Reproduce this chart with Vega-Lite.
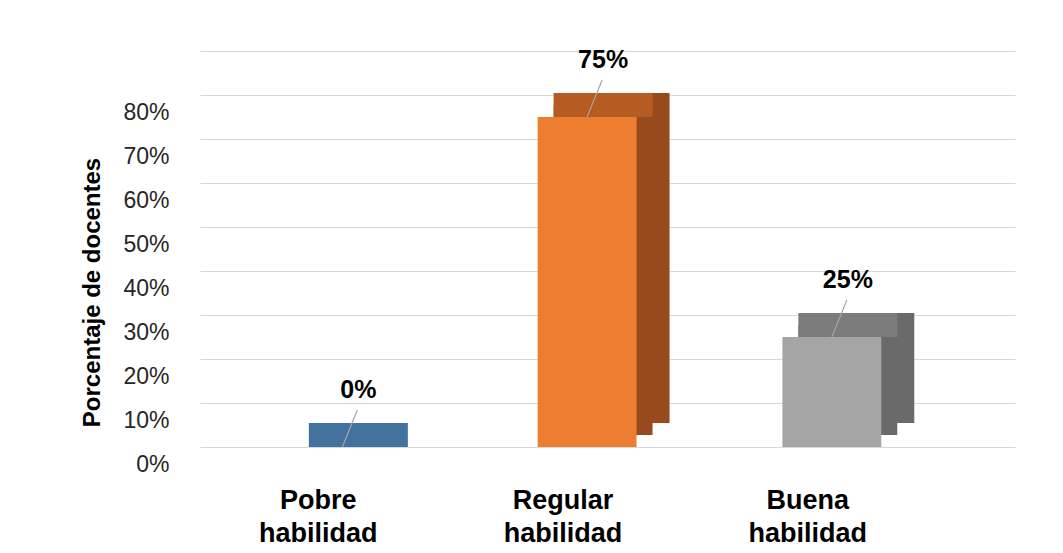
{
  "$schema": "https://vega.github.io/schema/vega-lite/v6.json",
  "width": 815,
  "height": 396,
  "autosize": {"type": "none"},
  "padding": {"left": 200, "top": 51, "right": 48, "bottom": 106},
  "background": "white",
  "config": {"font": "Liberation Sans", "view": {"stroke": null}},
  "data": {
    "values": [
      {"categoria": "Pobre habilidad", "porcentaje": 0},
      {"categoria": "Regular habilidad", "porcentaje": 0.75},
      {"categoria": "Buena habilidad", "porcentaje": 0.25}
    ]
  },
  "encoding": {
    "x": {
      "field": "categoria",
      "type": "nominal",
      "sort": null,
      "scale": {"paddingInner": 0.596, "paddingOuter": 0.463, "align": 0.41},
      "axis": {
        "title": null,
        "domain": false,
        "ticks": false,
        "labelAngle": 0,
        "labelExpr": "split(datum.label, ' ')",
        "labelFont": "Liberation Sans",
        "labelFontSize": 27,
        "labelFontWeight": "bold",
        "labelColor": "#000000",
        "labelLineHeight": 33,
        "labelPadding": 40,
        "labelOffset": -24
      }
    },
    "y": {
      "field": "porcentaje",
      "type": "quantitative",
      "scale": {"domain": [0, 0.9], "nice": false},
      "axis": {
        "values": [0, 0.1, 0.2, 0.3, 0.4, 0.5, 0.6, 0.7, 0.8, 0.9],
        "format": ".0%",
        "labelExpr": "datum.value > 0.85 ? '' : datum.label",
        "labelFont": "Liberation Sans",
        "labelFontSize": 23,
        "labelColor": "#262626",
        "labelPadding": 31,
        "labelOffset": 17,
        "ticks": false,
        "domain": false,
        "grid": true,
        "gridColor": "#d9d9d9",
        "gridWidth": 1.2,
        "title": "Porcentaje de docentes",
        "titleFont": "Liberation Sans",
        "titleFontSize": 24,
        "titleFontWeight": "bold",
        "titleColor": "#000000",
        "titleAngle": -90,
        "titleX": -108,
        "titleY": 241,
        "titleAlign": "center",
        "titleBaseline": "middle"
      }
    }
  },
  "layer": [
    {
      "mark": {"type": "bar", "xOffset": 33, "x2Offset": 33, "yOffset": -24, "y2Offset": -24},
      "encoding": {
        "color": {
          "field": "categoria",
          "type": "nominal",
          "scale": {"domain": ["Pobre habilidad", "Regular habilidad", "Buena habilidad"], "range": ["#2f5580", "#974b1d", "#6a6a6a"]},
          "legend": null
        }
      }
    },
    {
      "mark": {"type": "bar", "xOffset": 16, "x2Offset": 16, "yOffset": -12, "y2Offset": -12},
      "encoding": {
        "color": {
          "field": "categoria",
          "type": "nominal",
          "scale": {"domain": ["Pobre habilidad", "Regular habilidad", "Buena habilidad"], "range": ["#2f5580", "#974b1d", "#6a6a6a"]},
          "legend": null
        }
      }
    },
    {
      "mark": {"type": "tick", "thickness": 24, "size": 99, "xOffset": 16, "yOffset": -12, "opacity": 1},
      "encoding": {
        "color": {
          "field": "categoria",
          "type": "nominal",
          "scale": {"domain": ["Pobre habilidad", "Regular habilidad", "Buena habilidad"], "range": ["#44729f", "#b65b21", "#7c7c7c"]},
          "legend": null
        }
      }
    },
    {
      "mark": {"type": "bar"},
      "encoding": {
        "color": {
          "field": "categoria",
          "type": "nominal",
          "scale": {"domain": ["Pobre habilidad", "Regular habilidad", "Buena habilidad"], "range": ["#44729f", "#ed7d31", "#a5a5a5"]},
          "legend": null
        }
      }
    },
    {
      "mark": {"type": "rule", "color": "#a6a6a6", "strokeWidth": 1.2, "xOffset": 15, "yOffset": -37},
      "encoding": {
        "x2": {"field": "categoria"},
        "y2": {"field": "porcentaje"}
      }
    },
    {
      "mark": {"type": "text", "font": "Liberation Sans", "fontWeight": "bold", "fontSize": 25, "xOffset": 16, "yOffset": -57, "baseline": "middle", "align": "center", "color": "#000000"},
      "encoding": {
        "text": {"field": "porcentaje", "type": "quantitative", "format": ".0%"}
      }
    }
  ],
  "resolve": {"scale": {"color": "independent"}}
}
